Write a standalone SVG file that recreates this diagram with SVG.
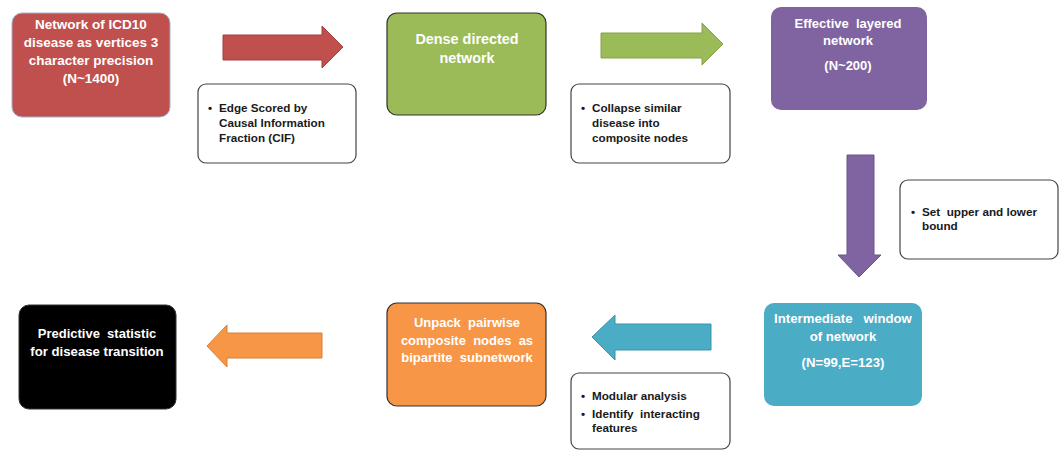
<svg xmlns="http://www.w3.org/2000/svg" width="1059" height="450" viewBox="0 0 1059 450">
<style>
text{white-space:pre}
.nt{font-family:"Liberation Sans",Arial,sans-serif;font-weight:bold;font-size:13.5px;fill:#ffffff;text-anchor:middle}
.bt{font-family:"Liberation Sans",Arial,sans-serif;font-weight:bold;font-size:11.7px;fill:#1a1a1a}
.box{fill:#ffffff;stroke:#444444;stroke-width:1.2}
</style>
<rect width="1059" height="450" fill="#ffffff"/>
<g id="connectors">
<polygon points="223,35 322,35 322,26 343,47 322,68 322,60 223,60" fill="#C0504D" stroke="#a33f3c" stroke-width="1"/>
<polygon points="601,33 702,33 702,23 723,44 702,65 702,58 601,58" fill="#9BBB59" stroke="#86a24a" stroke-width="1"/>
<polygon points="847,155 874,155 874,255 881,255 859,277 838,255 847,255" fill="#8064A2" stroke="#6c538b" stroke-width="1"/>
<polygon points="711,324 615,324 615,315 592,337 615,360 615,350 711,350" fill="#4BACC6" stroke="#3a93ab" stroke-width="1"/>
<polygon points="322,333 227,333 227,325 207,346 227,367 227,358 322,358" fill="#F79646" stroke="#d97f36" stroke-width="1"/>
</g>
<g id="node1">
<rect x="12" y="13" width="158" height="104" rx="10" fill="#C0504D" stroke="#9fb5d0" stroke-width="1"/>
<text class="nt" x="91" y="29">Network of ICD10</text>
<text class="nt" x="91" y="47">disease as vertices 3</text>
<text class="nt" x="91" y="65">character precision</text>
<text class="nt" x="91" y="83">(N~1400)</text>
</g>
<g id="note1">
<rect class="box" x="198" y="84" width="158" height="79" rx="8"/>
<text class="bt" x="208" y="112">•</text>
<text class="bt" x="219" y="112">Edge Scored by</text>
<text class="bt" x="219" y="127">Causal Information</text>
<text class="bt" x="219" y="142">Fraction (CIF)</text>
</g>
<g id="node2">
<rect x="387" y="13" width="159" height="102" rx="10" fill="#9BBB59" stroke="#333333" stroke-width="1.2"/>
<text class="nt" x="467" y="44" style="font-size:14.4px">Dense directed</text>
<text class="nt" x="467" y="63" style="font-size:14.4px">network</text>
</g>
<g id="note2">
<rect class="box" x="571" y="84" width="159" height="79" rx="8"/>
<text class="bt" x="581" y="112">•</text>
<text class="bt" x="592" y="112">Collapse similar</text>
<text class="bt" x="592" y="127">disease into</text>
<text class="bt" x="592" y="142">composite nodes</text>
</g>
<g id="node3">
<rect x="771" y="7" width="156" height="103" rx="10" fill="#8064A2"/>
<text class="nt" x="848" y="28" style="font-size:13px">Effective  layered</text>
<text class="nt" x="848" y="45" style="font-size:13px">network</text>
<text class="nt" x="848" y="70" style="font-size:13px">(N~200)</text>
</g>
<g id="note3">
<rect class="box" x="900" y="180" width="158" height="79" rx="8"/>
<text class="bt" x="911" y="216">•</text>
<text class="bt" x="922" y="216">Set  upper and lower</text>
<text class="bt" x="922" y="230">bound</text>
</g>
<g id="node4">
<rect x="764" y="303" width="158" height="103" rx="10" fill="#4BACC6"/>
<text class="nt" x="843" y="323" style="font-size:13.2px">Intermediate   window</text>
<text class="nt" x="843" y="341" style="font-size:13.2px">of network</text>
<text class="nt" x="843" y="367" style="font-size:13.2px">(N=99,E=123)</text>
</g>
<g id="note4">
<rect class="box" x="571" y="373" width="159" height="76" rx="8"/>
<text class="bt" x="581" y="400">•</text>
<text class="bt" x="592" y="400">Modular analysis</text>
<text class="bt" x="581" y="418">•</text>
<text class="bt" x="592" y="418">Identify  interacting</text>
<text class="bt" x="592" y="432">features</text>
</g>
<g id="node5">
<rect x="387" y="303" width="159" height="103" rx="10" fill="#F79646" stroke="#333333" stroke-width="1.2"/>
<text class="nt" x="467" y="327" style="font-size:13px">Unpack  pairwise</text>
<text class="nt" x="467" y="345" style="font-size:13px">composite  nodes  as</text>
<text class="nt" x="467" y="362" style="font-size:13px">bipartite  subnetwork</text>
</g>
<g id="node6">
<rect x="19" y="305" width="157" height="104" rx="10" fill="#000000" stroke="#333333" stroke-width="1"/>
<text class="nt" x="97" y="338" style="font-size:13px">Predictive  statistic</text>
<text class="nt" x="97" y="356" style="font-size:13.2px">for disease transition</text>
</g>
</svg>
